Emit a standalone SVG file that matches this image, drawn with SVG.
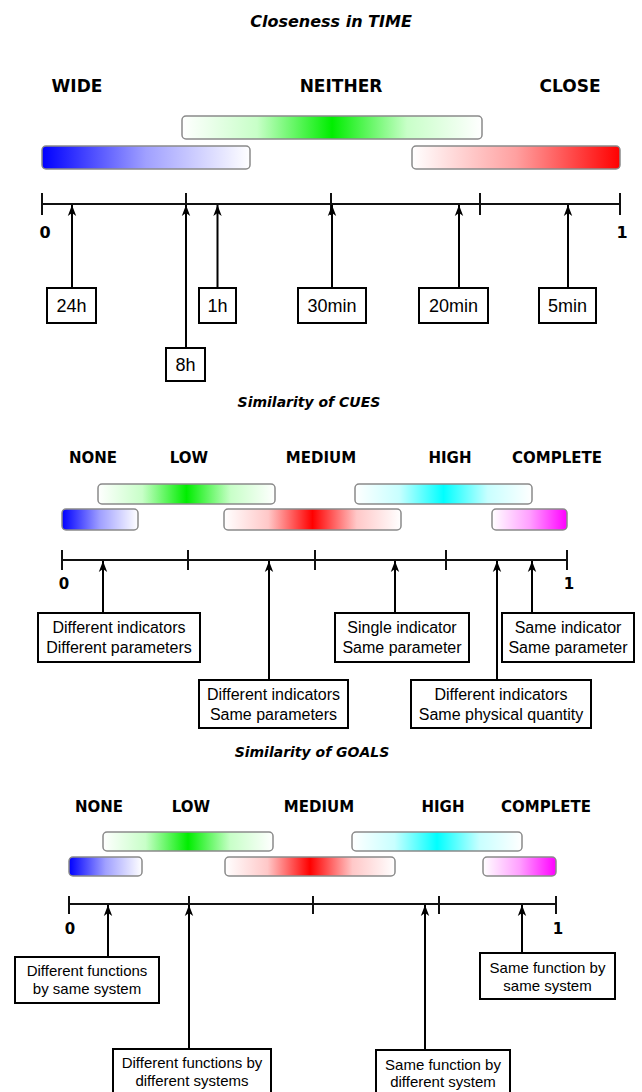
<svg xmlns="http://www.w3.org/2000/svg" width="642" height="1092" viewBox="0 0 642 1092">
<defs>
<linearGradient id="gBlue" x1="0" y1="0" x2="1" y2="0"><stop offset="0" stop-color="#0000ff"/><stop offset="0.5" stop-color="#a0a0ff"/><stop offset="1" stop-color="#ffffff"/></linearGradient>
<linearGradient id="gRedR" x1="0" y1="0" x2="1" y2="0"><stop offset="0" stop-color="#ffffff"/><stop offset="0.5" stop-color="#ffa0a0"/><stop offset="1" stop-color="#ff0000"/></linearGradient>
<linearGradient id="gMag" x1="0" y1="0" x2="1" y2="0"><stop offset="0" stop-color="#ffffff"/><stop offset="0.5" stop-color="#ffa0ff"/><stop offset="1" stop-color="#ff00ff"/></linearGradient>
<linearGradient id="gGreen" x1="0" y1="0" x2="1" y2="0"><stop offset="0" stop-color="#ffffff"/><stop offset="0.25" stop-color="#c8ffc8"/><stop offset="0.5" stop-color="#00ee00"/><stop offset="0.75" stop-color="#c8ffc8"/><stop offset="1" stop-color="#ffffff"/></linearGradient>
<linearGradient id="gCyan" x1="0" y1="0" x2="1" y2="0"><stop offset="0" stop-color="#ffffff"/><stop offset="0.25" stop-color="#c8ffff"/><stop offset="0.5" stop-color="#00ffff"/><stop offset="0.75" stop-color="#c8ffff"/><stop offset="1" stop-color="#ffffff"/></linearGradient>
<linearGradient id="gRedC" x1="0" y1="0" x2="1" y2="0"><stop offset="0" stop-color="#ffffff"/><stop offset="0.25" stop-color="#ffc8c8"/><stop offset="0.5" stop-color="#ff0000"/><stop offset="0.75" stop-color="#ffc8c8"/><stop offset="1" stop-color="#ffffff"/></linearGradient>
<marker id="ah" viewBox="0 0 12 10" refX="11" refY="5" markerWidth="12" markerHeight="10" markerUnits="userSpaceOnUse" orient="auto">
<path d="M11,5 L0,0.8 L3,5 L0,9.2 Z" fill="#000"/>
</marker>
</defs>
<style>
.ti{font-family:"DejaVu Sans",Verdana,sans-serif;font-weight:bold;font-style:italic;text-anchor:middle;fill:#000}
.lb{font-family:"DejaVu Sans",Verdana,sans-serif;font-weight:bold;text-anchor:middle;fill:#000}
.bar{stroke:#8a8a8a;stroke-width:1.5}
.box{fill:#fff;stroke:#000;stroke-width:2}
.bt{font-family:"Liberation Sans",Arial,sans-serif;text-anchor:middle;fill:#000}
.ax{stroke:#111;stroke-width:2;fill:none}
.ar{stroke:#000;stroke-width:2;fill:none;marker-end:url(#ah)}
</style>

<!-- ===== Section 1: Closeness in TIME ===== -->
<g id="title-time"><text class="ti" x="331" y="27" font-size="16">Closeness in TIME</text></g>
<g id="lbl-wide"><text class="lb" x="77" y="92" font-size="17">WIDE</text></g>
<g id="lbl-neither"><text class="lb" x="341" y="92" font-size="17">NEITHER</text></g>
<g id="lbl-close"><text class="lb" x="570" y="92" font-size="17">CLOSE</text></g>
<g id="bar-neither"><rect class="bar" x="182" y="116" width="300" height="23" rx="4" fill="url(#gGreen)"/></g>
<g id="bar-wide"><rect class="bar" x="42" y="146" width="208" height="23" rx="4" fill="url(#gBlue)"/></g>
<g id="bar-close"><rect class="bar" x="412" y="146" width="208" height="23" rx="4" fill="url(#gRedR)"/></g>
<g id="axis-time">
<path class="ax" d="M42,204 H620 M42,193 V215 M186,193 V215 M331,193 V215 M480,193 V215 M620,193 V215"/>
<text class="lb" x="45" y="238" font-size="16">0</text>
<text class="lb" x="622" y="238" font-size="16">1</text>
</g>
<g id="box-24h"><rect class="box" x="47" y="288" width="49" height="35"/><text class="bt" x="71.5" y="312" font-size="18">24h</text></g>
<g id="box-8h"><rect class="box" x="166" y="348" width="39" height="33"/><text class="bt" x="185.5" y="371" font-size="18">8h</text></g>
<g id="box-1h"><rect class="box" x="199" y="288" width="37" height="35"/><text class="bt" x="217.5" y="312" font-size="18">1h</text></g>
<g id="box-30min"><rect class="box" x="298" y="288" width="68" height="35"/><text class="bt" x="332" y="312" font-size="18">30min</text></g>
<g id="box-20min"><rect class="box" x="419" y="288" width="69" height="35"/><text class="bt" x="453.5" y="312" font-size="18">20min</text></g>
<g id="box-5min"><rect class="box" x="539" y="288" width="57" height="35"/><text class="bt" x="567.5" y="312" font-size="18">5min</text></g>

<!-- ===== Section 2: Similarity of CUES ===== -->
<g id="title-cues"><text class="ti" x="309" y="407" font-size="14">Similarity of CUES</text></g>
<g id="lbl-c-none"><text class="lb" x="93" y="463" font-size="15">NONE</text></g>
<g id="lbl-c-low"><text class="lb" x="189" y="463" font-size="15">LOW</text></g>
<g id="lbl-c-medium"><text class="lb" x="321" y="463" font-size="15">MEDIUM</text></g>
<g id="lbl-c-high"><text class="lb" x="450" y="463" font-size="15">HIGH</text></g>
<g id="lbl-c-complete"><text class="lb" x="557" y="463" font-size="15">COMPLETE</text></g>
<g id="bar-c-low"><rect class="bar" x="98" y="484" width="177" height="20" rx="4" fill="url(#gGreen)"/></g>
<g id="bar-c-high"><rect class="bar" x="355" y="484" width="177" height="20" rx="4" fill="url(#gCyan)"/></g>
<g id="bar-c-none"><rect class="bar" x="62" y="509" width="76" height="21" rx="4" fill="url(#gBlue)"/></g>
<g id="bar-c-medium"><rect class="bar" x="224" y="509" width="177" height="21" rx="4" fill="url(#gRedC)"/></g>
<g id="bar-c-complete"><rect class="bar" x="492" y="509" width="75" height="21" rx="4" fill="url(#gMag)"/></g>
<g id="axis-cues">
<path class="ax" d="M62,560 H567 M62,550 V570 M188,550 V570 M315,550 V570 M446,550 V570 M567,550 V570"/>
<text class="lb" x="64" y="589" font-size="15">0</text>
<text class="lb" x="569" y="589" font-size="15">1</text>
</g>
<g id="box-c1"><rect class="box" x="38" y="613" width="162" height="49"/><text class="bt" x="119" y="633" font-size="16">Different indicators</text><text class="bt" x="119" y="653" font-size="16">Different parameters</text></g>
<g id="box-c2"><rect class="box" x="199" y="680" width="149" height="48"/><text class="bt" x="273.5" y="700" font-size="16">Different indicators</text><text class="bt" x="273.5" y="720" font-size="16">Same parameters</text></g>
<g id="box-c3"><rect class="box" x="335" y="613" width="134" height="49"/><text class="bt" x="402" y="633" font-size="16">Single indicator</text><text class="bt" x="402" y="653" font-size="16">Same parameter</text></g>
<g id="box-c4"><rect class="box" x="411" y="680" width="180" height="48"/><text class="bt" x="501" y="700" font-size="16">Different indicators</text><text class="bt" x="501" y="720" font-size="16">Same physical quantity</text></g>
<g id="box-c5"><rect class="box" x="502" y="613" width="132" height="49"/><text class="bt" x="568" y="633" font-size="16">Same indicator</text><text class="bt" x="568" y="653" font-size="16">Same parameter</text></g>

<!-- ===== Section 3: Similarity of GOALS ===== -->
<g id="title-goals"><text class="ti" x="312" y="757" font-size="14">Similarity of GOALS</text></g>
<g id="lbl-g-none"><text class="lb" x="99" y="812" font-size="15">NONE</text></g>
<g id="lbl-g-low"><text class="lb" x="191" y="812" font-size="15">LOW</text></g>
<g id="lbl-g-medium"><text class="lb" x="319" y="812" font-size="15">MEDIUM</text></g>
<g id="lbl-g-high"><text class="lb" x="443" y="812" font-size="15">HIGH</text></g>
<g id="lbl-g-complete"><text class="lb" x="546" y="812" font-size="15">COMPLETE</text></g>
<g id="bar-g-low"><rect class="bar" x="103" y="832" width="170" height="19" rx="4" fill="url(#gGreen)"/></g>
<g id="bar-g-high"><rect class="bar" x="352" y="832" width="170" height="19" rx="4" fill="url(#gCyan)"/></g>
<g id="bar-g-none"><rect class="bar" x="69" y="857" width="73" height="19" rx="4" fill="url(#gBlue)"/></g>
<g id="bar-g-medium"><rect class="bar" x="225" y="857" width="170" height="19" rx="4" fill="url(#gRedC)"/></g>
<g id="bar-g-complete"><rect class="bar" x="483" y="857" width="73" height="19" rx="4" fill="url(#gMag)"/></g>
<g id="axis-goals">
<path class="ax" d="M69,904 H556 M69,896 V914 M189,896 V914 M313,896 V914 M439,896 V914 M556,896 V914"/>
<text class="lb" x="70" y="934" font-size="15">0</text>
<text class="lb" x="558" y="934" font-size="15">1</text>
</g>
<g id="box-g1"><rect class="box" x="15" y="957" width="144" height="46"/><text class="bt" x="87" y="976" font-size="15">Different functions</text><text class="bt" x="87" y="994" font-size="15">by same system</text></g>
<g id="box-g2"><rect class="box" x="113" y="1049" width="158" height="46"/><text class="bt" x="192" y="1068" font-size="15">Different functions by</text><text class="bt" x="192" y="1086" font-size="15">different systems</text></g>
<g id="box-g3"><rect class="box" x="376" y="1050" width="134" height="46"/><text class="bt" x="443" y="1070" font-size="15">Same function by</text><text class="bt" x="443" y="1087" font-size="15">different system</text></g>
<g id="box-g4"><rect class="box" x="480" y="953" width="135" height="46"/><text class="bt" x="547.5" y="973" font-size="15">Same function by</text><text class="bt" x="547.5" y="991" font-size="15">same system</text></g>

<!-- ===== Connectors ===== -->
<g id="connectors">
<line class="ar" x1="72" y1="288" x2="72" y2="205"/>
<line class="ar" x1="186" y1="348" x2="186" y2="205"/>
<line class="ar" x1="217.5" y1="288" x2="217.5" y2="205"/>
<line class="ar" x1="332" y1="288" x2="332" y2="205"/>
<line class="ar" x1="459" y1="288" x2="459" y2="205"/>
<line class="ar" x1="568" y1="288" x2="568" y2="205"/>
<line class="ar" x1="103" y1="613" x2="103" y2="561"/>
<line class="ar" x1="269" y1="680" x2="269" y2="561"/>
<line class="ar" x1="395" y1="613" x2="395" y2="561"/>
<line class="ar" x1="497" y1="680" x2="497" y2="561"/>
<line class="ar" x1="532" y1="613" x2="532" y2="561"/>
<line class="ar" x1="108" y1="957" x2="108" y2="905"/>
<line class="ar" x1="189" y1="1049" x2="189" y2="905"/>
<line class="ar" x1="425" y1="1050" x2="425" y2="905"/>
<line class="ar" x1="522" y1="953" x2="522" y2="905"/>
</g>
</svg>
